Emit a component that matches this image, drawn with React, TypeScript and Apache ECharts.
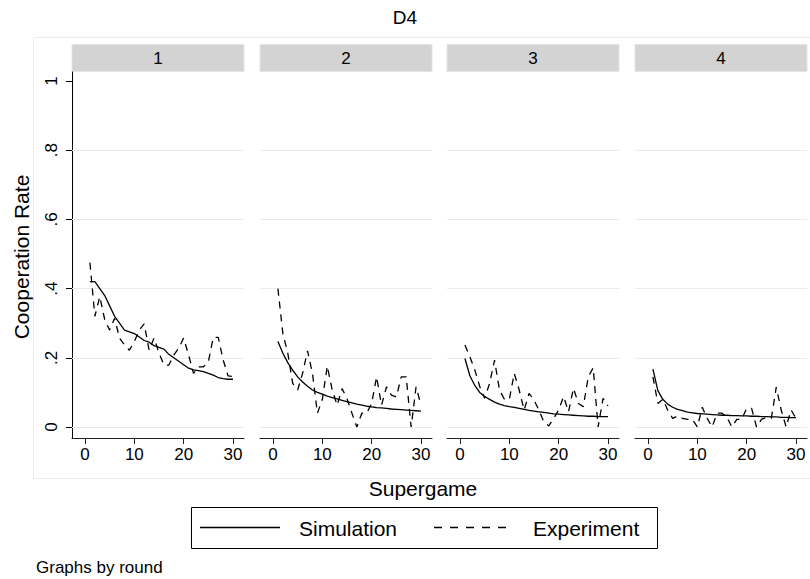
import React, { useEffect, useRef } from "react";
import * as echarts from "echarts";

const supergames = [1, 2, 3, 4, 5, 6, 7, 8, 9, 10, 11, 12, 13, 14, 15, 16, 17, 18, 19, 20, 21, 22, 23, 24, 25, 26, 27, 28, 29, 30];
const rounds = ["1", "2", "3", "4"];

const simulation1 = [0.42, 0.42, 0.40, 0.38, 0.35, 0.32, 0.30, 0.28, 0.275, 0.27, 0.26, 0.25, 0.245, 0.235, 0.23, 0.225, 0.21, 0.20, 0.19, 0.18, 0.17, 0.165, 0.163, 0.16, 0.155, 0.15, 0.143, 0.14, 0.138, 0.138];
const experiment1 = [0.475, 0.32, 0.377, 0.31, 0.28, 0.314, 0.257, 0.237, 0.222, 0.247, 0.28, 0.298, 0.222, 0.257, 0.214, 0.179, 0.179, 0.208, 0.228, 0.257, 0.208, 0.155, 0.174, 0.174, 0.188, 0.259, 0.259, 0.194, 0.148, 0.146];

const simulation2 = [0.247, 0.213, 0.186, 0.164, 0.145, 0.13, 0.118, 0.107, 0.10, 0.095, 0.089, 0.085, 0.081, 0.077, 0.073, 0.07, 0.066, 0.063, 0.06, 0.058, 0.056, 0.055, 0.054, 0.052, 0.051, 0.05, 0.049, 0.048, 0.047, 0.046];
const experiment2 = [0.40, 0.27, 0.213, 0.126, 0.107, 0.155, 0.22, 0.155, 0.04, 0.08, 0.176, 0.107, 0.063, 0.111, 0.082, 0.04, 0.0, 0.04, 0.04, 0.068, 0.145, 0.063, 0.116, 0.092, 0.087, 0.145, 0.145, 0.0, 0.116, 0.063];

const simulation3 = [0.198, 0.148, 0.12, 0.10, 0.088, 0.08, 0.072, 0.066, 0.062, 0.059, 0.057, 0.054, 0.051, 0.048, 0.046, 0.044, 0.042, 0.04, 0.038, 0.037, 0.036, 0.035, 0.034, 0.033, 0.032, 0.031, 0.031, 0.03, 0.03, 0.03];
const experiment3 = [0.237, 0.203, 0.165, 0.117, 0.083, 0.126, 0.193, 0.107, 0.08, 0.08, 0.155, 0.107, 0.049, 0.097, 0.078, 0.049, 0.015, 0.003, 0.025, 0.049, 0.088, 0.044, 0.112, 0.068, 0.059, 0.145, 0.171, 0.0, 0.083, 0.061];

const simulation4 = [0.167, 0.105, 0.08, 0.066, 0.057, 0.051, 0.047, 0.043, 0.041, 0.039, 0.038, 0.037, 0.036, 0.035, 0.034, 0.034, 0.033, 0.033, 0.032, 0.032, 0.031, 0.031, 0.03, 0.03, 0.029, 0.029, 0.028, 0.028, 0.027, 0.027];
const experiment4 = [0.145, 0.068, 0.08, 0.049, 0.025, 0.032, 0.025, 0.022, 0.022, 0.0, 0.057, 0.025, 0.0, 0.04, 0.04, 0.028, 0.0, 0.022, 0.022, 0.054, 0.054, 0.0, 0.022, 0.028, 0.025, 0.115, 0.049, 0.0, 0.049, 0.025];

const simulations = [simulation1, simulation2, simulation3, simulation4];
const experiments = [experiment1, experiment2, experiment3, experiment4];

const yTicks = [0, 0.2, 0.4, 0.6, 0.8, 1];
const yTickLabels = ["0", ".2", ".4", ".6", ".8", "1"];
const xTicks = [0, 10, 20, 30];
const yGridLines = [0, 0.2, 0.4, 0.6, 0.8];

export default function App() {
  const ref = useRef<HTMLDivElement>(null);

  useEffect(() => {
    if (!ref.current) return;
    const chart = echarts.init(ref.current, null, { renderer: "svg" });
    const font = "'Liberation Sans', Arial, Helvetica, sans-serif";
    const lefts = [72, 260, 447, 635];
    const W = 172;
    const TOP = 72;
    const H = 366;

    const grids = lefts.map((l) => ({ left: l, top: TOP, width: W, height: H }));

    const xAxes = lefts.map((_, i) => ({
      type: "value",
      gridIndex: i,
      min: -2.635,
      max: 32.23,
      axisLine: { show: true, onZero: false, lineStyle: { color: "#222", width: 1 } },
      axisTick: { show: true, length: 6, customValues: xTicks, lineStyle: { color: "#222" } },
      axisLabel: { show: true, customValues: xTicks, fontSize: 17, color: "#000", fontFamily: font, margin: 8 },
      splitLine: { show: false },
    }));

    const yAxes = lefts.map((_, i) => ({
      type: "value",
      gridIndex: i,
      min: -0.0318,
      max: 1.026,
      show: i === 0,
      axisLine: { show: true, onZero: false, lineStyle: { color: "#000", width: 1 } },
      axisTick: { show: true, length: 6, customValues: yTicks, lineStyle: { color: "#000" } },
      axisLabel: {
        show: true,
        customValues: yTicks,
        rotate: 90,
        fontSize: 17,
        color: "#000",
        fontFamily: font,
        margin: 12,
        formatter: (v: number) => {
          const idx = yTicks.findIndex((t) => Math.abs(t - v) < 1e-6);
          return idx >= 0 ? yTickLabels[idx] : "";
        },
      },
      splitLine: { show: false },
    }));

    const series: any[] = [];
    rounds.forEach((_, i) => {
      series.push({
        name: "Simulation",
        type: "line",
        xAxisIndex: i,
        yAxisIndex: i,
        data: supergames.map((g, k) => [g, simulations[i][k]]),
        symbol: "none",
        z: 3,
        lineStyle: { color: "#000", width: 1.3, type: "solid" },
        markLine: {
          silent: true,
          z: 1,
          symbol: "none",
          label: { show: false },
          lineStyle: { color: "#eaeaea", width: 1, type: "solid" },
          data: yGridLines.map((y) => ({ yAxis: y })),
        },
      });
      series.push({
        name: "Experiment",
        type: "line",
        xAxisIndex: i,
        yAxisIndex: i,
        data: supergames.map((g, k) => [g, experiments[i][k]]),
        symbol: "none",
        z: 4,
        lineStyle: { color: "#000", width: 1.3, type: [7, 6] },
      });
    });

    const graphics: any[] = [
      {
        type: "rect",
        shape: { x: 33.5, y: 37.5, width: 790, height: 441 },
        style: { fill: "none", stroke: "#ebebeb", lineWidth: 1 },
        z: 0,
      },
    ];
    lefts.forEach((l, i) => {
      graphics.push({
        type: "rect",
        shape: { x: l, y: 44.5, width: W, height: 27 },
        style: { fill: "#d3d3d3", stroke: "#dfe6ea", lineWidth: 1 },
      });
      graphics.push({
        type: "text",
        x: l + W / 2,
        y: 58,
        style: { text: rounds[i], fontSize: 17, fontFamily: font, fill: "#000", align: "center", verticalAlign: "middle" },
      });
    });
    graphics.push(
      {
        type: "text",
        x: 405,
        y: 17,
        style: { text: "D4", fontSize: 19, fontFamily: font, fill: "#000", align: "center", verticalAlign: "middle" },
      },
      {
        type: "text",
        x: 21,
        y: 257,
        rotation: Math.PI / 2,
        style: { text: "Cooperation Rate", fontSize: 21, fontFamily: font, fill: "#000", align: "center", verticalAlign: "middle" },
      },
      {
        type: "text",
        x: 423,
        y: 488,
        style: { text: "Supergame", fontSize: 21, fontFamily: font, fill: "#000", align: "center", verticalAlign: "middle" },
      },
      {
        type: "rect",
        shape: { x: 191.5, y: 507.5, width: 466, height: 41 },
        style: { fill: "#fff", stroke: "#000", lineWidth: 1 },
      },
      {
        type: "line",
        shape: { x1: 200, y1: 527.5, x2: 280, y2: 527.5 },
        style: { stroke: "#000", lineWidth: 1.3 },
      },
      {
        type: "text",
        x: 299,
        y: 528,
        style: { text: "Simulation", fontSize: 21, fontFamily: font, fill: "#000", align: "left", verticalAlign: "middle" },
      },
      {
        type: "line",
        shape: { x1: 434, y1: 527.5, x2: 514, y2: 527.5 },
        style: { stroke: "#000", lineWidth: 1.3, lineDash: [8, 8] },
      },
      {
        type: "text",
        x: 533,
        y: 528,
        style: { text: "Experiment", fontSize: 21, fontFamily: font, fill: "#000", align: "left", verticalAlign: "middle" },
      },
      {
        type: "text",
        x: 36,
        y: 567,
        style: { text: "Graphs by round", fontSize: 17, fontFamily: font, fill: "#000", align: "left", verticalAlign: "middle" },
      }
    );

    chart.setOption({
      animation: false,
      backgroundColor: "#fff",
      grid: grids,
      xAxis: xAxes,
      yAxis: yAxes,
      series,
      graphic: graphics,
    });

    return () => chart.dispose();
  }, []);

  return (
    <div
      ref={ref}
      style={{ position: "fixed", left: 0, top: 0, width: 810, height: 579, background: "#fff" }}
    />
  );
}
